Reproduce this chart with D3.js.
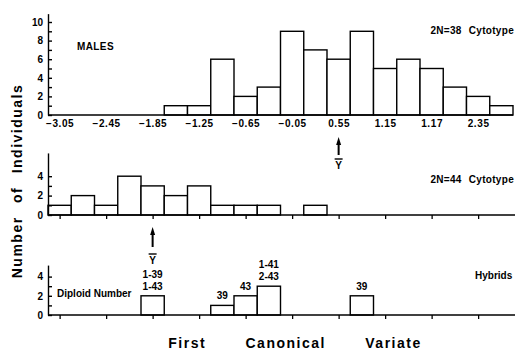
<!DOCTYPE html>
<meta charset="utf-8">
<head>
  <title>First canonical variate histograms</title>
</head>

<style>
body {
  margin: 0;
  background: #fff;
}
text {
  font-family: "Liberation Sans", Arial, sans-serif;
  font-weight: bold;
  fill: #000;
}
</style>

<body>
  <div id="content">
    <svg width="515" height="356"></svg>
  </div>

  <script src="https://cdnjs.cloudflare.com/ajax/libs/d3/7.8.5/d3.min.js"></script>

  <script>
// Bins are 0.3 wide, first one starts at -3.20
var binWidth = 0.3;
var xDomain = [-3.2, 2.8];

// x ticks sit on every other bin centre (the original prints 1.17 for 1.75)
var tickValues = [-3.05, -2.45, -1.85, -1.25, -0.65, -0.05, 0.55, 1.15, 1.75, 2.35];
var tickLabels = ['\u22123.05', '\u22122.45', '\u22121.85', '\u22121.25', '\u22120.65', '\u22120.05', '0.55', '1.15', '1.17', '2.35'];

// 2N=38 males
var maleBinStart = [-1.7, -1.4, -1.1, -0.8, -0.5, -0.2, 0.1, 0.4, 0.7, 1.0, 1.3, 1.6, 1.9, 2.2, 2.5];
var maleCounts   = [1, 1, 6, 2, 3, 9, 7, 6, 9, 5, 6, 5, 3, 2, 1];
var maleMean = 0.55;

// 2N=44
var c44BinStart = [-3.2, -2.9, -2.6, -2.3, -2.0, -1.7, -1.4, -1.1, -0.8, -0.5, 0.1];
var c44Counts   = [1, 2, 1, 4, 3, 2, 3, 1, 1, 1, 1];
var c44Mean = -1.85;

// Hybrids, with diploid numbers
var hybBinStart = [-2.0, -1.1, -0.8, -0.5, 0.7];
var hybCounts   = [2, 1, 2, 3, 2];
var hybLabels   = [['1-39', '1-43'], ['39'], ['43'], ['1-41', '2-43'], ['39']];

var svg = d3.select('#content svg');

var x = d3.scaleLinear().domain(xDomain).range([48, 513]);

// one vertical scale per panel
var yTop = d3.scaleLinear().domain([0, 10.9]).range([115, 115 - 10.9 * 9.3]);
var yMid = d3.scaleLinear().domain([0, 6.4]).range([215, 215 - 6.4 * 9.7]);
var yBot = d3.scaleLinear().domain([0, 5.2]).range([315, 315 - 5.2 * 9.6]);

function yAxis(y, maxTick) {
  var g = svg.append('g').attr('transform', 'translate(48,0)')
    .call(d3.axisLeft(y)
      .tickValues(d3.range(0, maxTick + 1))
      .tickFormat(function(d) { return d % 2 ? '' : d; })
      .tickSizeInner(-4)
      .tickSizeOuter(0)
      .tickPadding(5));
  g.selectAll('path, line').attr('stroke', '#000').attr('stroke-width', 1.4);
  g.selectAll('text').style('font-size', '10px').style('font-family', '"Liberation Sans", Arial, sans-serif');
}

function bars(binStart, counts, y) {
  svg.append('g').selectAll('rect')
    .data(counts)
    .enter().append('rect')
    .attr('x', function(d, i) { return x(binStart[i]); })
    .attr('width', function(d, i) { return x(binStart[i] + binWidth) - x(binStart[i]); })
    .attr('y', function(d) { return y(d); })
    .attr('height', function(d) { return y(0) - y(d); })
    .attr('fill', '#fff')
    .attr('stroke', '#000')
    .attr('stroke-width', 1.4);
}

function baseline(y, x1) {
  svg.append('line')
    .attr('x1', 48).attr('x2', x1)
    .attr('y1', y(0)).attr('y2', y(0))
    .attr('stroke', '#000').attr('stroke-width', 1.5);
}

function meanArrow(xv, tipY, endY, barY) {
  var px = x(xv);
  svg.append('line')
    .attr('x1', px).attr('x2', px).attr('y1', tipY + 6).attr('y2', endY)
    .attr('stroke', '#000').attr('stroke-width', 2);
  svg.append('path')
    .attr('d', 'M' + px + ',' + tipY + 'L' + (px - 2.5) + ',' + (tipY + 8) + 'L' + (px + 2.5) + ',' + (tipY + 8) + 'Z')
    .attr('fill', '#000');
  svg.append('line')
    .attr('x1', px - 4).attr('x2', px + 4).attr('y1', barY).attr('y2', barY)
    .attr('stroke', '#000').attr('stroke-width', 1.4);
  svg.append('text')
    .attr('x', px).attr('y', barY + 10)
    .attr('text-anchor', 'middle')
    .style('font-size', '10px')
    .text('Y');
}

function label(txt, px, py, anchor, size) {
  return svg.append('text')
    .attr('x', px).attr('y', py)
    .attr('text-anchor', anchor || 'start')
    .style('font-size', (size || 10) + 'px')
    .text(txt);
}

// ---- top panel: 2N=38
bars(maleBinStart, maleCounts, yTop);
baseline(yTop, 513);
yAxis(yTop, 10);
var gx = svg.append('g').attr('transform', 'translate(0,' + yTop(0) + ')')
  .call(d3.axisBottom(x)
    .tickValues(tickValues)
    .tickFormat(function(d, i) { return tickLabels[i]; })
    .tickSize(0)
    .tickPadding(5));
gx.select('.domain').remove();
gx.selectAll('text').style('font-size', '10px').style('letter-spacing', '0.6px')
  .style('font-family', '"Liberation Sans", Arial, sans-serif');
label('2N=38 Cytotype', 514, 34, 'end').style('word-spacing', '4px').style('letter-spacing', '0.3px');
label('MALES', 77, 50).style('letter-spacing', '0.4px');
meanArrow(maleMean, 137, 155, 159);

// ---- middle panel: 2N=44
bars(c44BinStart, c44Counts, yMid);
baseline(yMid, 515);
yAxis(yMid, 4);
var gm = svg.append('g').attr('transform', 'translate(0,' + yMid(0) + ')')
  .call(d3.axisBottom(x).tickValues(tickValues).tickFormat('').tickSize(4).tickSizeOuter(0));
gm.select('.domain').remove();
gm.selectAll('line').attr('stroke', '#000').attr('stroke-width', 1.3);
label('2N=44 Cytotype', 514, 183, 'end').style('word-spacing', '4px').style('letter-spacing', '0.3px');
meanArrow(c44Mean, 227, 247, 254);

// ---- bottom panel: hybrids
bars(hybBinStart, hybCounts, yBot);
baseline(yBot, 515);
yAxis(yBot, 4);
var gb = svg.append('g').attr('transform', 'translate(0,' + yBot(0) + ')')
  .call(d3.axisBottom(x).tickValues(tickValues).tickFormat('').tickSize(4).tickSizeOuter(0));
gb.select('.domain').remove();
gb.selectAll('line').attr('stroke', '#000').attr('stroke-width', 1.3);
label('Hybrids', 475, 279);
label('Diploid Number', 57, 297);

hybLabels.forEach(function(lines, i) {
  var cx = x(hybBinStart[i] + binWidth / 2);
  var top = yBot(hybCounts[i]) - 6;
  lines.forEach(function(t, j) {
    label(t, cx, top - (lines.length - 1 - j) * 12, 'middle');
  });
});

// ---- axis titles
svg.append('text')
  .attr('transform', 'translate(22,181) rotate(-90)')
  .attr('text-anchor', 'middle')
  .style('font-size', '14px')
  .style('letter-spacing', '1.5px')
  .style('word-spacing', '8px')
  .text('Number of Individuals');

svg.append('text')
  .attr('x', 295).attr('y', 348)
  .attr('text-anchor', 'middle')
  .style('font-size', '14px')
  .style('letter-spacing', '1.5px')
  .style('word-spacing', '34px')
  .text('First Canonical Variate');
  </script>
</body>
</html>
